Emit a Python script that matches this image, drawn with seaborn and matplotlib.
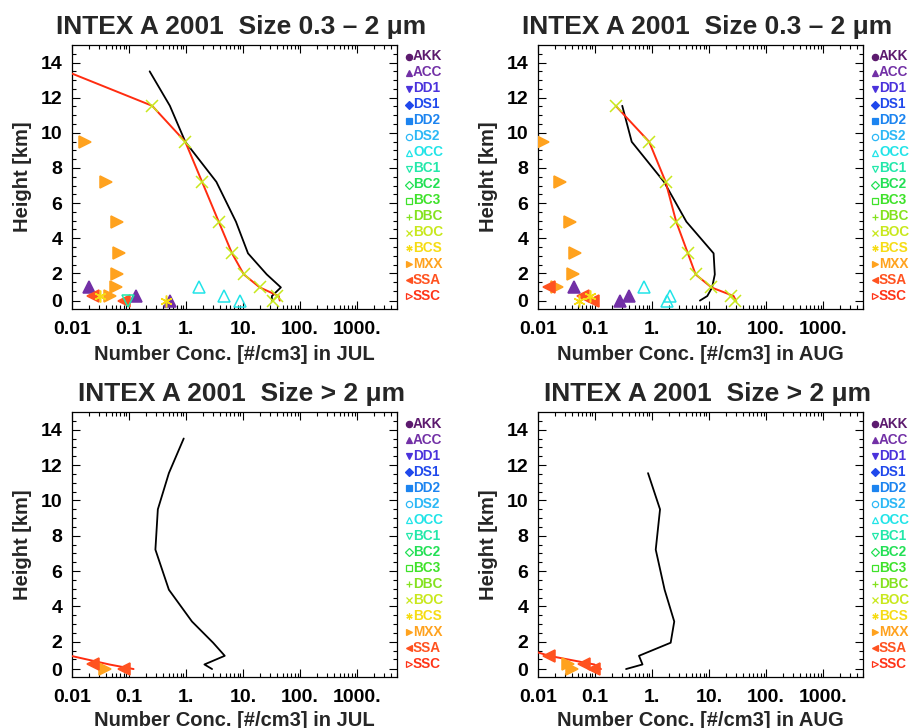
import seaborn as sns
import matplotlib.pyplot as plt
import matplotlib.ticker as mticker
from matplotlib.transforms import ScaledTranslation
import numpy as np
import pandas as pd

# model levels [km]
lev = [0.45, 0.71, 1.2, 1.94, 3.14, 4.94, 7.21, 9.49, 11.54, 13.5]

# ---- JUL, size 0.3 - 2 um ----
jul_f_obs = [32, 32, 46, 26, 12.2, 7.5, 3.4, 0.97, 0.52, 0.23]
jul_f_mod = [44, 42, 19.6, 10.3, 6.4, 3.74, 1.91, 0.97, 0.254, 0.008]
jul_f_boc = [33.6, 39.4, 19.6, 10.3, 6.4, 3.74, 1.91, 0.97, 0.254]
jul_f_mxx_h = [0.71, 1.2, 1.94, 3.14, 4.94, 7.21, 9.49]
jul_f_mxx = [0.047, 0.060, 0.062, 0.066, 0.062, 0.040, 0.017]
jul_f_acc_h = [0.45, 0.71, 1.2]
jul_f_acc = [0.52, 0.135, 0.0196]
jul_f_ssa_h = [0.45, 0.71]
jul_f_ssa = [0.083, 0.0233]
jul_f_bcs_h = [0.45, 0.71]
jul_f_bcs = [0.45, 0.031]
jul_f_occ_h = [0.45, 0.71, 1.2]
jul_f_occ = [9.0, 4.7, 1.67]
jul_f_bc1_h = [0.45]
jul_f_bc1 = [0.095]

# ---- AUG, size 0.3 - 2 um ----
aug_f_obs = [6.9, 9.3, 11.3, 12.6, 12.0, 4.0, 1.62, 0.44, 0.30]
aug_f_mod = [29.5, 26.9, 11.0, 5.8, 4.25, 2.65, 1.73, 0.89, 0.23]
aug_f_boc = [28.8, 24.2, 11.0, 5.8, 4.25, 2.65, 1.73, 0.89, 0.23]
aug_f_mxx_h = [1.2, 1.94, 3.14, 4.94, 7.21, 9.49]
aug_f_mxx = [0.0214, 0.0408, 0.0454, 0.0366, 0.0248, 0.0122]
aug_f_ssa_h = [0.45, 0.71, 1.2]
aug_f_ssa = [0.093, 0.061, 0.0156]
aug_f_acc_h = [0.45, 0.71, 1.2]
aug_f_acc = [0.27, 0.39, 0.042]
aug_f_bcs_h = [0.45, 0.71]
aug_f_bcs = [0.053, 0.082]
aug_f_occ_h = [0.45, 0.71, 1.2]
aug_f_occ = [1.8, 2.03, 0.72]

# ---- JUL, size > 2 um ----
jul_c_obs = [2.86, 2.1, 4.77, 2.98, 1.27, 0.50, 0.29, 0.32, 0.50, 0.91]
jul_c_mod_h = [0.45, 0.71, 1.2]
jul_c_mod = [0.12, 0.045, 0.0095]
jul_c_ssa_h = [0.45, 0.71]
jul_c_ssa = [0.083, 0.023]
jul_c_mxx_h = [0.45]
jul_c_mxx = [0.038]

# ---- AUG, size > 2 um ----
aug_c_obs = [0.35, 0.68, 0.59, 2.12, 2.45, 1.66, 1.16, 1.38, 0.85]
aug_c_mod_h = [0.45, 0.71, 1.2, 1.94]
aug_c_mod = [0.127, 0.097, 0.0156, 0.0028]
aug_c_ssa_h = [0.45, 0.71, 1.2]
aug_c_ssa = [0.097, 0.063, 0.0156]
aug_c_mxx_h = [0.45, 0.71]
aug_c_mxx = [0.040, 0.033]

species = ["AKK", "ACC", "DD1", "DS1", "DD2", "DS2", "OCC", "BC1",
           "BC2", "BC3", "DBC", "BOC", "BCS", "MXX", "SSA", "SSC"]
sp_colors = ["#5c1a6e", "#7230a6", "#4a32dc", "#1f48ec", "#1c84f0", "#2cb8f6",
             "#22e4e8", "#22e8aa", "#22e055", "#3ee22a", "#84e21e", "#c8e81c",
             "#f6dc14", "#ffa21e", "#ff5220", "#ff3418"]
sp_markers = ["o", "^", "v", "D", "s", "o", "^", "v",
              "D", "s", "+", "x", (6, 2, 0), ">", "<", ">"]
sp_filled = [True, True, True, True, True, False, False, False,
             False, False, True, True, True, True, True, False]
style = {n: (c, m, f) for n, c, m, f in zip(species, sp_colors, sp_markers, sp_filled)}

sns.set_style("ticks")
plt.rcParams["font.family"] = ["Liberation Sans", "DejaVu Sans"]
plt.rcParams["font.weight"] = "bold"
plt.rcParams["axes.labelweight"] = "bold"
plt.rcParams["axes.titleweight"] = "bold"

RED = "#ff2c10"


def dots(ax, xs, hs, name, ms=8.5):
    c, m, f = style[name]
    ax.plot(xs, hs, ls="none", marker=m, ms=ms, mfc=c if f else "none",
            mec=c, mew=1.1, zorder=4)


def line(ax, xs, hs, color, lw=1.4):
    df = pd.DataFrame({"x": xs, "h": hs})
    sns.lineplot(data=df, x="x", y="h", sort=False, estimator=None,
                 color=color, lw=lw, ax=ax, zorder=3)


def frame(ax, title, month, xpad=5):
    ax.set_xscale("log")
    ax.set_xlim(0.01, 5000)
    ax.set_ylim(0, 15)
    ax.xaxis.set_major_locator(mticker.FixedLocator([0.01, 0.1, 1, 10, 100, 1000]))
    ax.xaxis.set_major_formatter(mticker.FixedFormatter(["0.01", "0.1", "1.", "10.", "100.", "1000."]))
    ax.xaxis.set_minor_locator(mticker.LogLocator(subs=np.arange(2, 10)))
    ax.xaxis.set_minor_formatter(mticker.NullFormatter())
    ax.yaxis.set_major_locator(mticker.FixedLocator([0.45, 2, 4, 6, 8, 10, 12, 14]))
    ax.yaxis.set_major_formatter(mticker.FixedFormatter(["0", "2", "4", "6", "8", "10", "12", "14"]))
    ax.yaxis.set_minor_locator(mticker.FixedLocator(np.arange(1, 15, 0.5)))
    ax.tick_params(which="both", direction="in", top=True, right=True,
                   width=0.8, colors="black")
    ax.tick_params(which="major", length=6, labelsize=14, pad=7)
    ax.tick_params(axis="x", which="major", pad=9)
    ax.tick_params(which="minor", length=3)
    for s in ax.spines.values():
        s.set_linewidth(0.9)
        s.set_color("black")
    ax.set_title(title, fontsize=19, pad=8, x=0.52)
    ax.set_xlabel(f"Number Conc. [#/cm3] in {month}", fontsize=14.5, labelpad=xpad)
    ax.set_ylabel("Height [km]", fontsize=14.5, labelpad=6)
    # species key at right of the panel
    for i, n in enumerate(species):
        c, m, f = style[n]
        dy = -(11.5 + 16.0 * i) / 100
        tr = ax.transAxes + ScaledTranslation(12 / 100, dy, fig.dpi_scale_trans)
        ax.plot([1], [1], transform=tr, ls="none", marker=m, ms=4.5,
                mfc=c if f else "none", mec=c, mew=0.9, clip_on=False)
        trt = ax.transAxes + ScaledTranslation(16 / 100, dy, fig.dpi_scale_trans)
        ax.text(1, 1, n, transform=trt, color=c, fontsize=9.8,
                fontweight="bold", va="center", ha="left", clip_on=False)


fig = plt.figure(figsize=(9.1, 7.28), dpi=100)
W, H = 910, 728
ax_tl = fig.add_axes([72 / W, 1 - 308.5 / H, 325 / W, 263.5 / H])
ax_tr = fig.add_axes([538 / W, 1 - 308.5 / H, 325 / W, 263.5 / H])
ax_bl = fig.add_axes([72 / W, 1 - 677 / H, 325 / W, 265 / H])
ax_br = fig.add_axes([538 / W, 1 - 677 / H, 325 / W, 265 / H])

t_fine = "INTEX A 2001  Size 0.3 \u2013 2 \u03bcm"
t_coarse = "INTEX A 2001  Size > 2 \u03bcm"

# top-left: JUL fine
ax = ax_tl
line(ax, jul_f_obs, lev, "black", 1.3)
line(ax, jul_f_mod, lev, RED)
dots(ax, jul_f_boc, lev[:9], "BOC")
dots(ax, jul_f_mxx, jul_f_mxx_h, "MXX")
dots(ax, jul_f_acc, jul_f_acc_h, "ACC")
dots(ax, jul_f_ssa, jul_f_ssa_h, "SSA")
dots(ax, jul_f_occ, jul_f_occ_h, "OCC")
dots(ax, jul_f_bc1, jul_f_bc1_h, "BC1")
dots(ax, jul_f_bcs, jul_f_bcs_h, "BCS")
frame(ax, t_fine, "JUL")

# top-right: AUG fine
ax = ax_tr
line(ax, aug_f_obs, lev[:9], "black", 1.3)
line(ax, aug_f_mod, lev[:9], RED)
dots(ax, aug_f_boc, lev[:9], "BOC")
dots(ax, aug_f_mxx, aug_f_mxx_h, "MXX")
dots(ax, aug_f_ssa, aug_f_ssa_h, "SSA")
dots(ax, aug_f_acc, aug_f_acc_h, "ACC")
dots(ax, aug_f_occ, aug_f_occ_h, "OCC")
dots(ax, aug_f_bcs, aug_f_bcs_h, "BCS")
frame(ax, t_fine, "AUG")

# bottom-left: JUL coarse
ax = ax_bl
line(ax, jul_c_obs, lev, "black", 1.3)
line(ax, jul_c_mod, jul_c_mod_h, RED)
dots(ax, jul_c_mxx, jul_c_mxx_h, "MXX")
dots(ax, jul_c_ssa, jul_c_ssa_h, "SSA")
frame(ax, t_coarse, "JUL", xpad=3)

# bottom-right: AUG coarse
ax = ax_br
line(ax, aug_c_obs, lev[:9], "black", 1.3)
line(ax, aug_c_mod, aug_c_mod_h, RED)
dots(ax, aug_c_mxx, aug_c_mxx_h, "MXX")
dots(ax, aug_c_ssa, aug_c_ssa_h, "SSA")
frame(ax, t_coarse, "AUG", xpad=3)

for a in (ax_tl, ax_tr, ax_bl, ax_br):
    leg = a.get_legend()
    if leg is not None:
        leg.remove()

fig.savefig("out.png", dpi=100)
